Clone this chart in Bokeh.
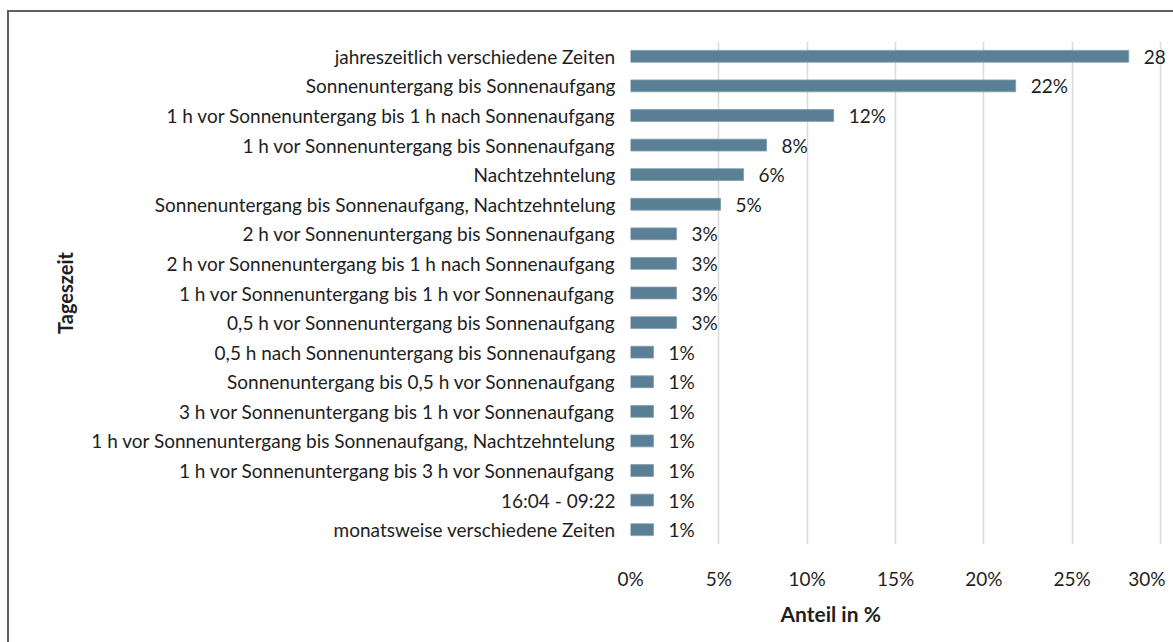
from bokeh.plotting import figure
from bokeh.models import (Range1d, FactorRange, ColumnDataSource, LabelSet, Title,
                          FixedTicker, CustomJSTickFormatter, InlineStyleSheet)
from bokeh.core.properties import value
from bokeh.embed import file_html
from bokeh.resources import INLINE

categories = [
    "jahreszeitlich verschiedene Zeiten",
    "Sonnenuntergang bis Sonnenaufgang",
    "1 h vor Sonnenuntergang bis 1 h nach Sonnenaufgang",
    "1 h vor Sonnenuntergang bis Sonnenaufgang",
    "Nachtzehntelung",
    "Sonnenuntergang bis Sonnenaufgang, Nachtzehntelung",
    "2 h vor Sonnenuntergang bis Sonnenaufgang",
    "2 h vor Sonnenuntergang bis 1 h nach Sonnenaufgang",
    "1 h vor Sonnenuntergang bis 1 h vor Sonnenaufgang",
    "0,5 h vor Sonnenuntergang bis Sonnenaufgang",
    "0,5 h nach Sonnenuntergang bis Sonnenaufgang",
    "Sonnenuntergang bis 0,5 h vor Sonnenaufgang",
    "3 h vor Sonnenuntergang bis 1 h vor Sonnenaufgang",
    "1 h vor Sonnenuntergang bis Sonnenaufgang, Nachtzehntelung",
    "1 h vor Sonnenuntergang bis 3 h vor Sonnenaufgang",
    "16:04 - 09:22",
    "monatsweise verschiedene Zeiten",
]
values = [28.2, 21.8, 11.5, 7.7, 6.4, 5.1, 2.6, 2.6, 2.6, 2.6, 1.3, 1.3, 1.3, 1.3, 1.3, 1.3, 1.3]
value_labels = ["%d%%" % round(v) for v in values]
x_ticks = [0, 5, 10, 15, 20, 25, 30]

FONT = "Lato"
TXT = "#1e1e1e"
BAR = "#5b7f95"

src = ColumnDataSource(dict(cat=categories, val=values, lab=value_labels))

border_css = InlineStyleSheet(css="""
:host { position: relative; }
:host::after {
  content: "";
  position: absolute;
  left: 7px; top: 10px; right: -20px; bottom: -20px;
  border-left: 2px solid #5f5f5f;
  border-top: 2px solid #5f5f5f;
  pointer-events: none;
  z-index: 10;
}
""")

p = figure(
    width=1165, height=634,
    y_range=FactorRange(factors=list(reversed(categories))),
    x_range=Range1d(0, 30.28),
    output_backend="svg", toolbar_location=None,
    min_border_left=630, min_border_right=0, min_border_top=41, min_border_bottom=90,
    stylesheets=[border_css],
)
p.outline_line_color = None

p.hbar(y="cat", right="val", left=0, height=0.4, source=src,
       fill_color=BAR, line_color="#7f9cae", line_width=0.8)

labels = LabelSet(x="val", y="cat", text="lab", source=src, x_offset=15,
                  text_align="left", text_baseline="middle",
                  text_font=value(FONT), text_font_size=value("19px"), text_color=TXT)
p.add_layout(labels)

p.xaxis.ticker = FixedTicker(ticks=x_ticks)
p.xaxis.formatter = CustomJSTickFormatter(code="return tick + '%';")
p.xgrid.ticker = FixedTicker(ticks=x_ticks)
p.xgrid.grid_line_color = "#d9d9d9"
p.xgrid.grid_line_width = 1.5
p.ygrid.grid_line_color = None

for ax in (p.xaxis[0], p.yaxis[0]):
    ax.axis_line_color = None
    ax.major_tick_line_color = None
    ax.minor_tick_line_color = None
    ax.major_tick_in = 0
    ax.major_tick_out = 0
    ax.major_label_text_font = FONT
    ax.major_label_text_font_size = "19px"
    ax.major_label_text_color = TXT

p.xaxis.major_label_standoff = 22
p.yaxis.major_label_standoff = 15

p.yaxis.axis_label = "Tageszeit"
p.yaxis.axis_label_text_font = FONT
p.yaxis.axis_label_text_font_size = "20px"
p.yaxis.axis_label_text_font_style = "bold"
p.yaxis.axis_label_text_color = TXT
p.yaxis.axis_label_standoff = 11

xt = Title(text="Anteil in %", align="left", offset=150, vertical_align="middle",
           text_font=FONT, text_font_size="21px", text_font_style="bold",
           text_color=TXT, standoff=14)
p.add_layout(xt, "below")

open("out.html", "w").write(file_html(p, INLINE))
